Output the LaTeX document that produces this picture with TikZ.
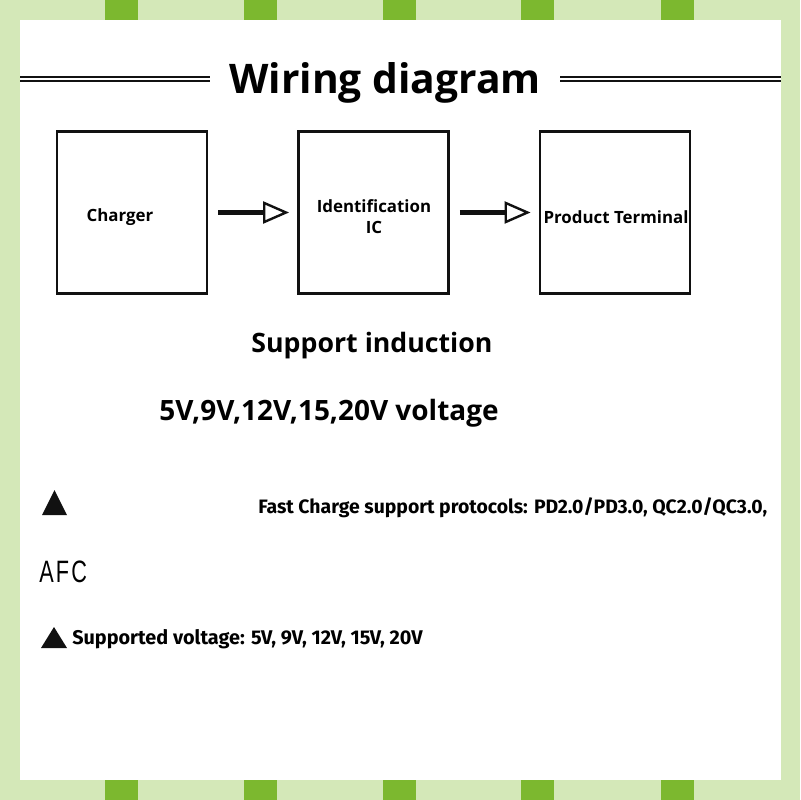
\documentclass[tikz,border=0pt]{standalone}
\usepackage{fontspec}
\setmainfont{Open Sans}
\newfontfamily\notefont{Fira Sans}
\newfontfamily\afcfont{Liberation Sans}[LetterSpace=10]
\usetikzlibrary{arrows.meta,positioning}
\definecolor{Leaf}{HTML}{7CB82F}
\definecolor{Pale}{HTML}{D4E8B8}
\definecolor{Ink}{HTML}{111111}

\tikzset{
  block/.style={draw=Ink,line width=2pt,minimum width=3.75cm,minimum height=4.03cm,inner sep=0pt},
  boxtext/.style={font=\fontsize{12}{15}\selectfont\bfseries,align=center,inner sep=0pt},
  flow/.style={Ink,line width=3.4pt,shorten <=0.25cm,shorten >=0.2cm,
    -{Triangle[open,length=0.65cm,width=0.55cm,line width=1.7pt]}},
  rule/.style={Ink,line width=1.3pt},
  bignote/.style={font=\fontsize{19}{22}\selectfont\bfseries,inner sep=0pt},
  smallnote/.style={font=\notefont\fontsize{13.8}{16}\selectfont\bfseries,inner sep=0pt,anchor=west},
  bullet/.style={fill=Ink}
}

\begin{document}
\begin{tikzpicture}[x=0.025cm,y=-0.025cm]
  % frame
  \fill[Pale] (0,0) rectangle (800,800);
  \foreach \bx in {105,244,383,521,661} {
    \fill[Leaf] (\bx,0) rectangle ++(33,20);
    \fill[Leaf] (\bx,780) rectangle ++(33,20);
  }
  \fill[white] (20,20) rectangle (781,780);
  \useasboundingbox (0,0) rectangle (800,800);

  % heading
  \node[font=\fontsize{29}{34}\selectfont\bfseries,inner sep=0pt] (title) at (385,83) {Wiring diagram};
  \coordinate (ruleL) at (20,79);
  \coordinate (ruleR) at (781,79);
  \coordinate (ruleLend) at (210,79);
  \coordinate (ruleRbeg) at (560,79);
  \draw[rule] ([yshift=0.06cm]ruleL) -- ([yshift=0.06cm]ruleLend);
  \draw[rule] ([yshift=-0.06cm]ruleL) -- ([yshift=-0.06cm]ruleLend);
  \draw[rule] ([yshift=0.06cm]ruleRbeg) -- ([yshift=0.06cm]ruleR);
  \draw[rule] ([yshift=-0.06cm]ruleRbeg) -- ([yshift=-0.06cm]ruleR);

  % blocks
  \node[block] (charger) at (132,212.5) {};
  \node[block] (icbox) at (373.5,212.5) {};
  \node[block] (terminal) at (615,212.5) {};
  \node[boxtext] (chargertxt) at (120,217) {Charger};
  \node[boxtext] (ictxt) at (374,217) {Identification\\IC};
  \node[boxtext,fill=white] (termtxt) at (616,217) {Product Terminal};

  \draw[flow] (charger) -- (icbox);
  \draw[flow] (icbox) -- (terminal);

  % notes
  \node[bignote] (induct) at (372,346) {Support induction};
  \node[bignote,font=\fontsize{19.9}{22}\selectfont\bfseries] (volts) at (329,413) {5V,9V,12V,15,20V voltage};

  \fill[bullet] (42,515) -- (67,515) -- (54.5,490) -- cycle;
  \node[smallnote] (proto) at (258,508) {Fast Charge support protocols: PD2.0/PD3.0, QC2.0/QC3.0,};
  \node[anchor=west,inner sep=0pt,font=\afcfont\fontsize{22}{26}\selectfont] (afc) at (39,572) {\scalebox{0.7}[1]{AFC}};
  \fill[bullet] (41,648) -- (67,648) -- (54,627) -- cycle;
  \node[smallnote,font=\notefont\fontsize{14.1}{16}\selectfont\bfseries] (supvolt) at (72,639) {Supported voltage: 5V, 9V, 12V, 15V, 20V};
\end{tikzpicture}
\end{document}
